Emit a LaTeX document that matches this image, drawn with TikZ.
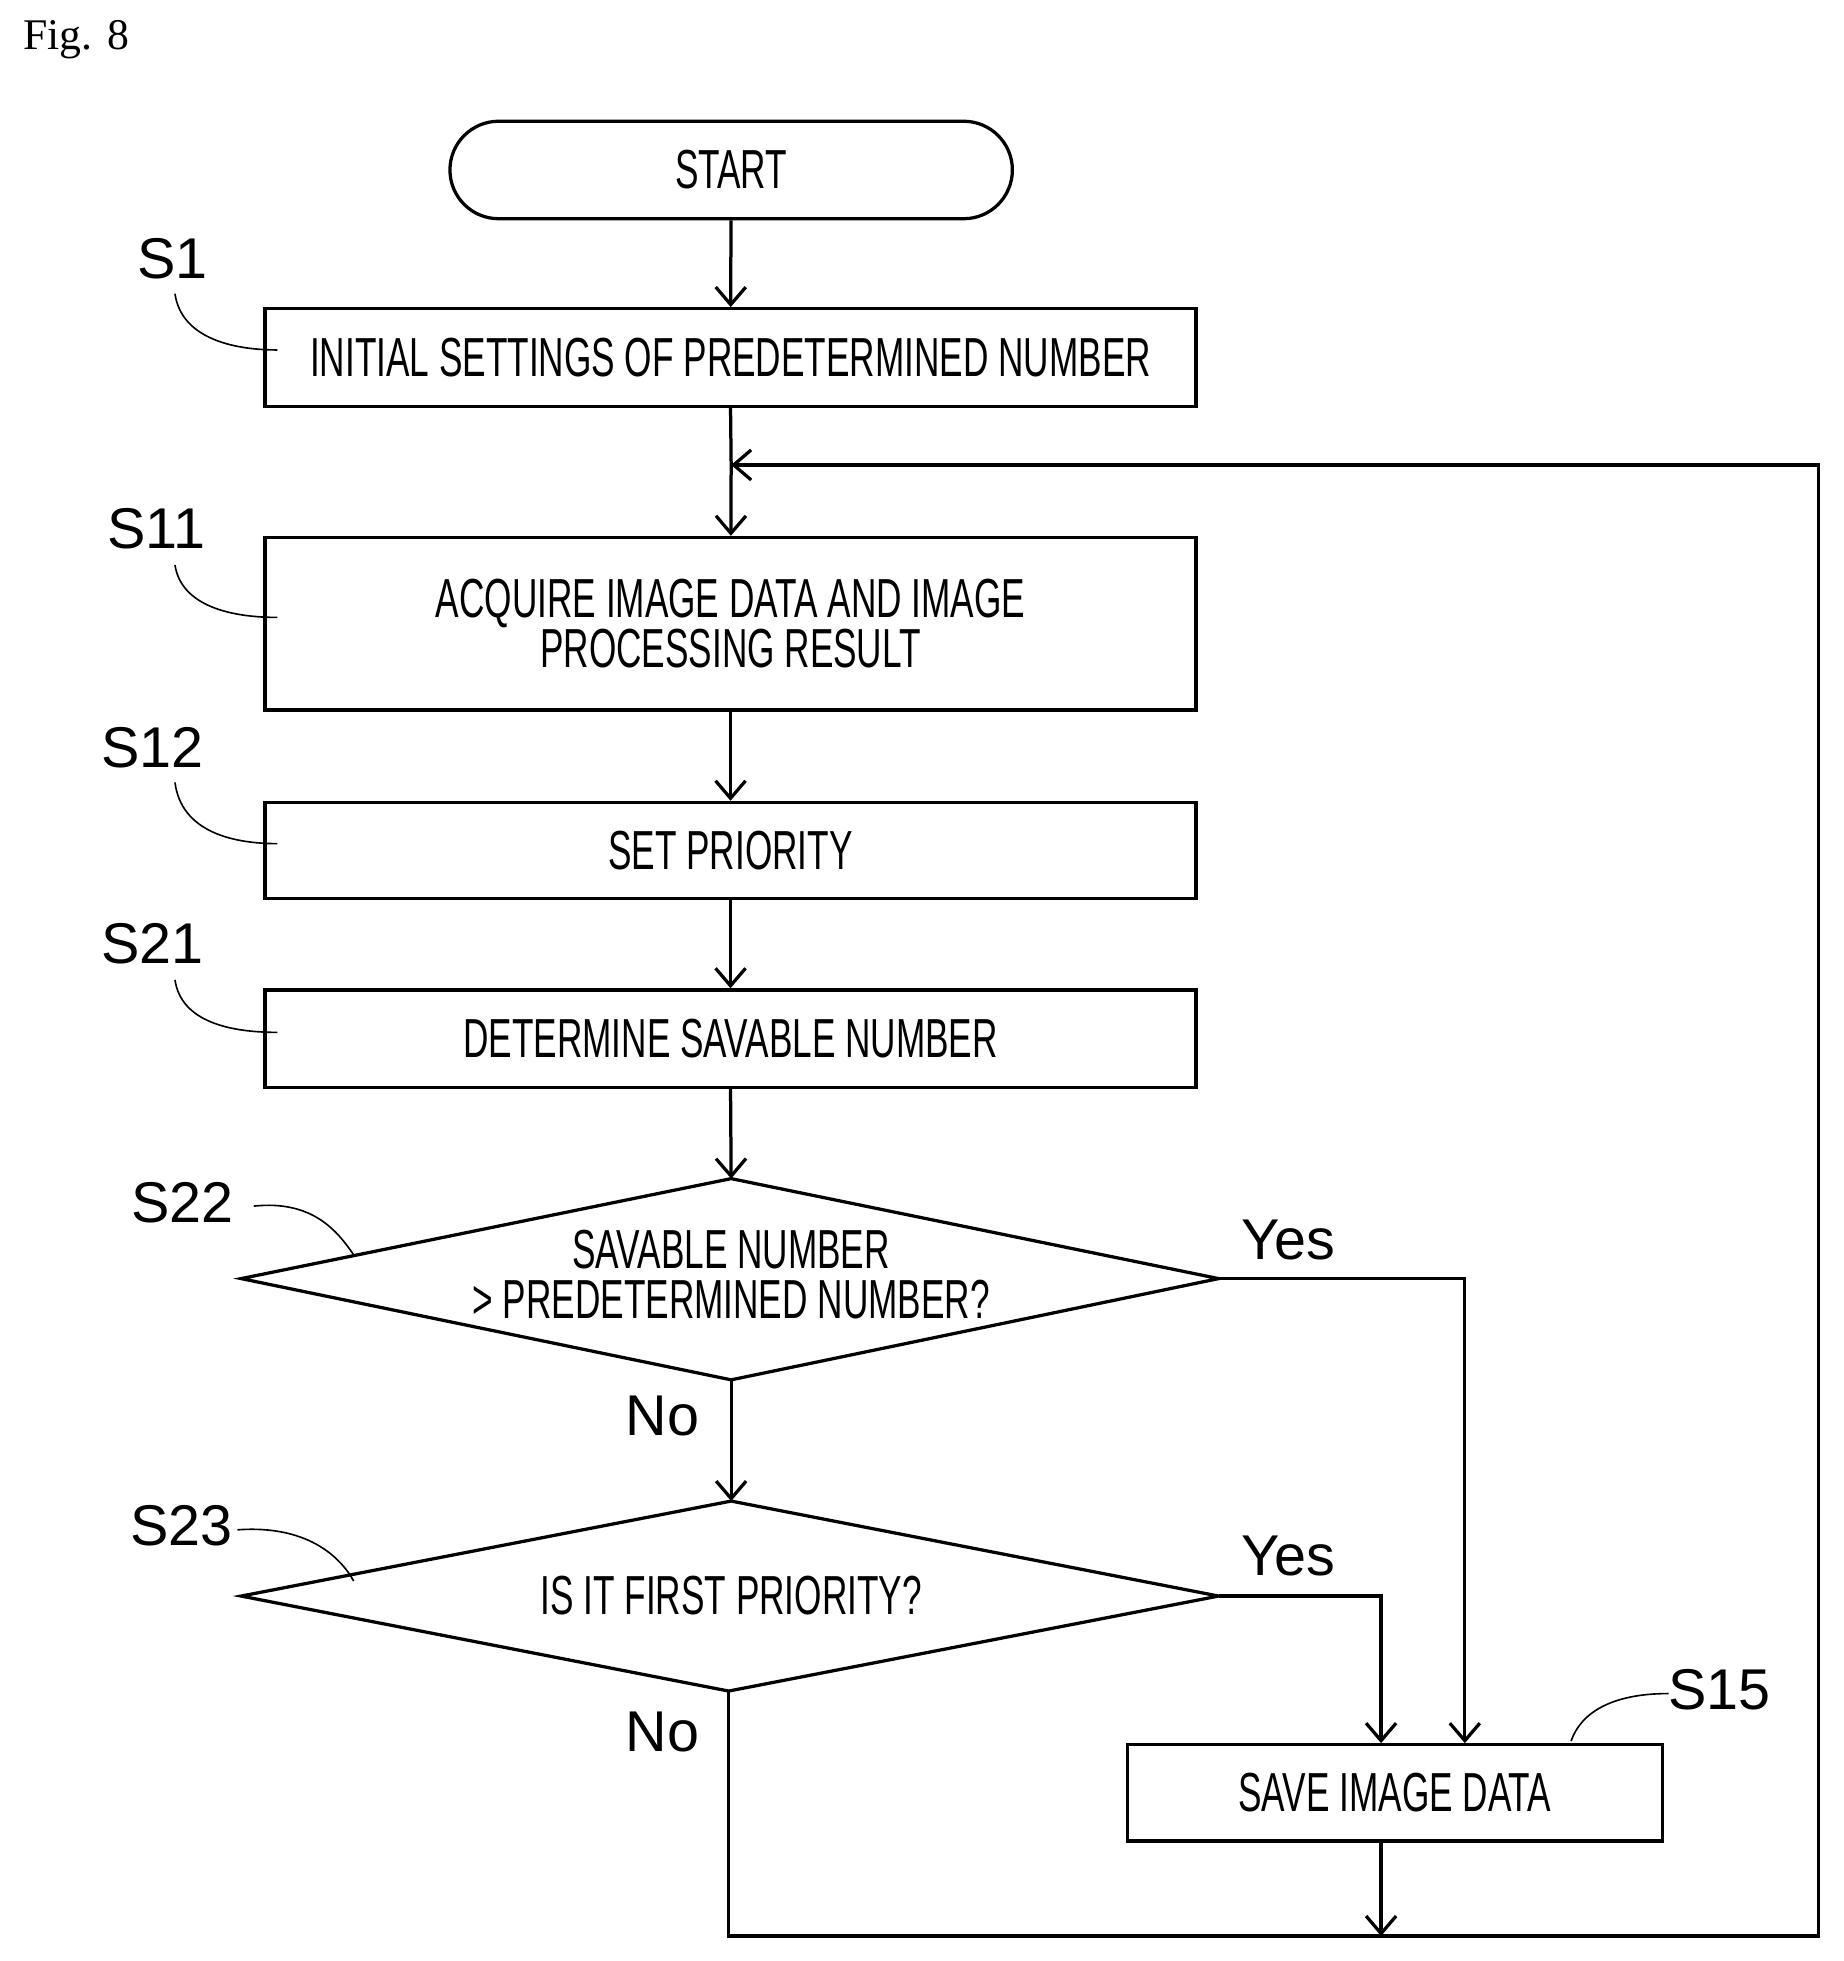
\documentclass[tikz,border=0pt]{standalone}
\usepackage{fontspec}
\setmainfont{Liberation Sans}
\newfontfamily\cond[FakeStretch=0.64]{Liberation Sans}
\newfontfamily\figfont{Liberation Serif}
\usetikzlibrary{shapes.geometric,arrows.meta}
\begin{document}
\begin{tikzpicture}[x=1pt,y=-1pt,
  box/.style={draw,line width=2.6pt,font=\cond\fontsize{44}{44}\selectfont,align=center,inner sep=0},
  lab/.style={font=\fontsize{46}{46}\selectfont},
  arr/.style={line width=2.6pt,-{Straight Barb[length=14pt,width=24pt,line width=2.6pt]}},
  ln/.style={line width=2.6pt},
  lead/.style={line width=1.3pt}]
\useasboundingbox (0,0) rectangle (1475,1569);
\node[font=\figfont\fontsize{35}{35}\selectfont,anchor=west] (fig) at (15,32) {Fig. 8};
\node[box,rounded corners=39pt,minimum width=450pt,minimum height=78pt] (start) at (585,136) {START};
\node[box,minimum width=745pt,minimum height=78pt] (s1) at (584.5,286) {INITIAL SETTINGS OF PREDETERMINED NUMBER};
\node[box,minimum width=745pt,minimum height=138pt] (s11) at (584.5,499) {ACQUIRE IMAGE DATA AND IMAGE\\[-4pt]PROCESSING RESULT};
\node[box,minimum width=745pt,minimum height=77pt] (s12) at (584.5,680.5) {SET PRIORITY};
\node[box,minimum width=745pt,minimum height=78pt] (s21) at (584.5,831) {DETERMINE SAVABLE NUMBER};
\node[box,minimum width=428pt,minimum height=77pt] (s15) at (1116,1434.5) {SAVE IMAGE DATA};
\coordinate (d1t) at (585,943); \coordinate (d1l) at (193,1023); \coordinate (d1r) at (975,1023); \coordinate (d1b) at (585,1104);
\coordinate (d2t) at (585,1201); \coordinate (d2l) at (193,1277); \coordinate (d2r) at (975,1277); \coordinate (d2b) at (583,1353);
\draw[ln] (d1t)--(d1r)--(d1b)--(d1l)--cycle;
\draw[ln] (d2t)--(d2r)--(d2b)--(d2l)--cycle;
\node[font=\cond\fontsize{44}{44}\selectfont,align=center] (s22t) at (585,1020) {SAVABLE NUMBER\\[-4pt]> PREDETERMINED NUMBER?};
\node[font=\cond\fontsize{44}{44}\selectfont] (s23t) at (585,1277) {IS IT FIRST PRIORITY?};
\coordinate (m) at (585,372); \coordinate (r1) at (1455,372); \coordinate (r2) at (1455,1549);
\coordinate (b1) at (583,1549); \coordinate (b2) at (1105,1549);
\coordinate (y1) at (1172,1023); \coordinate (y2) at (1105,1277);
\draw[arr] (start)--(s1);
\draw[ln] (s1.south)--(m);
\draw[arr] (m)--(s11);
\draw[arr] (s11)--(s12);
\draw[arr] (s12)--(s21);
\draw[arr] (s21.south)--(d1t);
\draw[arr] (d1b)--(d2t);
\draw[arr] (d1r)--(y1)--(y1|-s15.north);
\draw[arr] (d2r)--(y2)--(y2|-s15.north);
\draw[arr] (s15.south-|b2)--(b2);
\draw[arr] (d2b)--(b1)--(r2)--(r1)--(m);
\node[lab] (l1) at (138,207) {S1};
\node[lab] (l11) at (125,423) {S11};
\node[lab] (l12) at (122,598) {S12};
\node[lab] (l21) at (122,755) {S21};
\node[lab] (l22) at (146,962) {S22};
\node[lab] (l23) at (145,1221) {S23};
\node[lab] (l15) at (1376,1352) {S15};
\draw[lead] (140,235) .. controls (145,270) and (185,280) .. (222,280);
\draw[lead] (140,452) .. controls (145,485) and (185,494) .. (222,494);
\draw[lead] (140,626) .. controls (145,665) and (185,675) .. (222,675);
\draw[lead] (140,784) .. controls (145,818) and (185,826) .. (222,826);
\draw[lead] (203,965) .. controls (250,960) and (270,985) .. (283,1004);
\draw[lead] (190,1224) .. controls (245,1220) and (272,1245) .. (283,1265);
\draw[lead] (1335,1355) .. controls (1290,1355) and (1265,1370) .. (1257,1393);
\node[lab] (yes1) at (1031,992) {Yes};
\node[lab] (yes2) at (1031,1245) {Yes};
\node[lab] (no1) at (530,1133) {No};
\node[lab] (no2) at (530,1386) {No};
\end{tikzpicture}
\end{document}
